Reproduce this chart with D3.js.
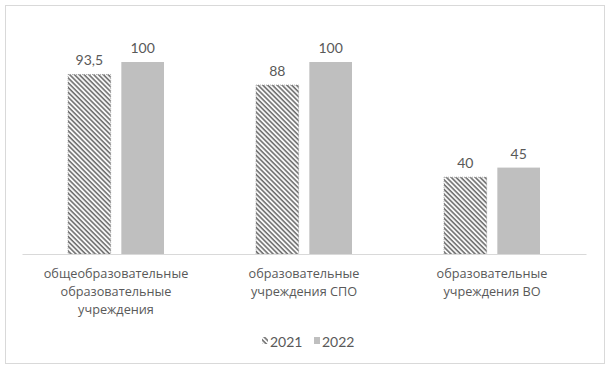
<!DOCTYPE html>
<html>
<head>
<meta charset="utf-8">
<script src="https://cdn.jsdelivr.net/npm/d3@7"></script>
<style>
  body { margin: 0; background: #fff; }
  svg text { font-family: Lato, "Open Sans", sans-serif; fill: #595959; }
  svg .cats text { font-family: "Open Sans", sans-serif; }
</style>
</head>
<body>
<div id="container"></div>
<script>
// chart data
var categories = [
  ["общеобразовательные", "образовательные", "учреждения"],
  ["образовательные", "учреждения СПО"],
  ["образовательные", "учреждения ВО"]
];
var years = ["2021", "2022"];
var values2021 = [93.5, 88, 40];
var values2022 = [100, 100, 45];

var width = 609,
  height = 369,
  margin = { top: 62, right: 23, bottom: 115, left: 22 },
  graphWidth = width - margin.left - margin.right,
  graphHeight = height - margin.top - margin.bottom;

var svg = d3.select("#container").append("svg")
  .attr("width", width)
  .attr("height", height);

// outer frame
svg.append("rect")
  .attr("x", 5.5).attr("y", 5.5)
  .attr("width", 599).attr("height", 358)
  .style("fill", "none")
  .style("stroke", "#d9d9d9");

var defs = svg.append("defs");
defs.append("pattern")
  .attr("id", "hatch")
  .attr("patternUnits", "userSpaceOnUse")
  .attr("width", 3.4).attr("height", 3.4)
  .attr("patternTransform", "rotate(-45)")
  .call(function (p) {
    p.append("rect").attr("width", 3.4).attr("height", 3.4).style("fill", "#fff");
    p.append("line").attr("x1", 1).attr("y1", 0).attr("x2", 1).attr("y2", 3.4)
      .style("stroke", "#6a6a6a").style("stroke-width", 1.6);
  });

var g = svg.append("g")
  .attr("transform", "translate(" + margin.left + "," + margin.top + ")");

var idx = d3.range(categories.length);
var x0 = d3.scaleBand().domain(idx).range([0, graphWidth]);
var x1 = d3.scaleBand().domain(years).range([0, 96]).paddingInner(0.2);
var y = d3.scaleLinear().domain([0, 100]).range([graphHeight, 0]);

var series = [
  { key: "2021", values: values2021, fill: "url(#hatch)", label: function (v) { return String(v).replace(".", ","); } },
  { key: "2022", values: values2022, fill: "#bfbfbf", label: function (v) { return String(v); } }
];

series.forEach(function (s) {
  var grp = g.append("g").attr("class", "series-" + s.key);
  grp.selectAll("rect")
    .data(s.values)
    .enter().append("rect")
    .attr("x", function (d, i) { return x0(i) + x0.bandwidth() / 2 - 48 + x1(s.key); })
    .attr("y", function (d) { return y(d); })
    .attr("width", x1.bandwidth())
    .attr("height", function (d) { return graphHeight - y(d); })
    .style("fill", s.fill)
    .style("stroke", s.key === "2021" ? "#7f7f7f" : "none")
    .style("stroke-width", 0.6)
    .style("stroke-dasharray", s.key === "2021" ? "1,1" : null);
  grp.selectAll("text")
    .data(s.values)
    .enter().append("text")
    .attr("x", function (d, i) { return x0(i) + x0.bandwidth() / 2 - 48 + x1(s.key) + x1.bandwidth() / 2; })
    .attr("y", function (d) { return y(d) - 9; })
    .attr("text-anchor", "middle")
    .style("font-size", "14px")
    .text(function (d) { return s.label(d); });
});

// x axis line
var xAxis = d3.axisBottom(x0).tickSize(0).tickFormat("");
var gX = g.append("g")
  .attr("class", "axis x-axis")
  .attr("transform", "translate(0," + graphHeight + ")")
  .call(xAxis);
gX.select("path.domain").style("stroke", "#d9d9d9");

// category labels
var catG = g.append("g").attr("class", "cats");
catG.selectAll("text")
  .data(categories)
  .enter().append("text")
  .attr("text-anchor", "middle")
  .attr("y", graphHeight + 24)
  .style("font-size", "12.7px")
  .each(function (lines, i) {
    var t = d3.select(this);
    lines.forEach(function (ln, k) {
      t.append("tspan")
        .attr("x", x0(i) + x0.bandwidth() / 2)
        .attr("dy", k === 0 ? 0 : 18)
        .text(ln);
    });
  });

// legend
var legend = svg.append("g").attr("transform", "translate(262,341)");
var legendItems = [
  { key: years[0], fill: "url(#hatch)", x: 0 },
  { key: years[1], fill: "#bfbfbf", x: 52 }
];
legendItems.forEach(function (it) {
  legend.append("rect")
    .attr("x", it.x).attr("y", -4)
    .attr("width", 6).attr("height", 7)
    .style("fill", it.fill);
  legend.append("text")
    .attr("x", it.x + 8).attr("y", 5.5)
    .style("font-size", "14px")
    .text(it.key);
});
</script>
</body>
</html>
